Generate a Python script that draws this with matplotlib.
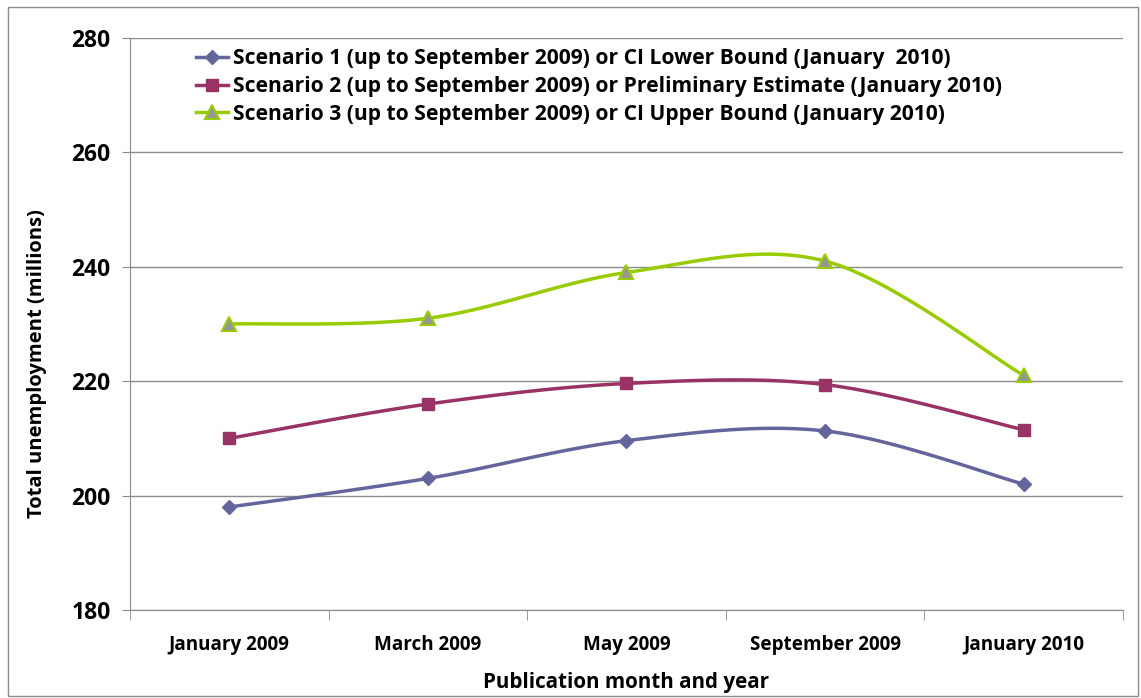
import numpy as np
import matplotlib as mpl
mpl.use("Agg")
import matplotlib.pyplot as plt
from matplotlib.patches import Rectangle

plt.rcParams['font.family'] = ['Open Sans', 'DejaVu Sans']
plt.rcParams['font.weight'] = 'bold'

months = ["January 2009", "March 2009", "May 2009", "September 2009", "January 2010"]
scenario1 = [198.0, 203.0, 209.6, 211.3, 202.0]
scenario2 = [210.0, 216.0, 219.6, 219.4, 211.5]
scenario3 = [230.0, 231.0, 239.0, 241.0, 221.0]
labels = ["Scenario 1 (up to September 2009) or CI Lower Bound (January  2010)",
          "Scenario 2 (up to September 2009) or Preliminary Estimate (January 2010)",
          "Scenario 3 (up to September 2009) or CI Upper Bound (January 2010)"]


def excel_smooth(x, y, n=30):
  # bezier smoothing like office charts: control points from neighbour slopes
  x = np.asarray(x, float)
  y = np.asarray(y, float)
  xs, ys = [x[0]], [y[0]]
  t = np.linspace(0, 1, n)[1:]
  for i in range(len(x) - 1):
    i0 = max(i - 1, 0)
    i3 = min(i + 2, len(x) - 1)
    c1x = x[i] + (x[i + 1] - x[i0]) / 6
    c1y = y[i] + (y[i + 1] - y[i0]) / 6
    c2x = x[i + 1] - (x[i3] - x[i]) / 6
    c2y = y[i + 1] - (y[i3] - y[i]) / 6
    bx = (1-t)**3*x[i] + 3*(1-t)**2*t*c1x + 3*(1-t)*t**2*c2x + t**3*x[i+1]
    by = (1-t)**3*y[i] + 3*(1-t)**2*t*c1y + 3*(1-t)*t**2*c2y + t**3*y[i+1]
    xs.extend(bx)
    ys.extend(by)
  return np.array(xs), np.array(ys)


fig = plt.figure(figsize=(11.41, 6.98), dpi=100)
fig.patches.append(Rectangle((0.007, 0.003), 0.99, 0.987, transform=fig.transFigure,
                             fill=False, edgecolor='#8c8c8c', linewidth=1.0))
ax = fig.add_axes([0.1139, 0.1261, 0.8703, 0.8195])

xpos = np.arange(len(months))
styles = [
  dict(color='#65659e', marker='D', mfc='#65659e', mec='#65659e', ms=7),
  dict(color='#993366', marker='s', mfc='#993366', mec='#993366', ms=9),
  dict(color='#99cc00', marker='^', mfc='#969696', mec='#99cc00', ms=10, mew=1.5),
]
for vals, lab, st in zip([scenario1, scenario2, scenario3], labels, styles):
  sx, sy = excel_smooth(xpos, vals)
  ax.plot(sx, sy, color=st['color'], linewidth=2.5, zorder=3)
  ax.plot(xpos, vals, linestyle='none', marker=st['marker'], ms=st['ms'],
          mfc=st['mfc'], mec=st['mec'], mew=st.get('mew', 1), zorder=4)
  ax.plot([], [], color=st['color'], linewidth=2.5, marker=st['marker'], ms=st['ms'],
          mfc=st['mfc'], mec=st['mec'], mew=st.get('mew', 1), label=lab)

ax.set_xlim(-0.5, len(months) - 0.5)
ax.set_ylim(180, 280)
ax.set_yticks([180, 200, 220, 240, 260, 280])
ax.grid(axis='y', color='#8c8c8c', linewidth=1)
ax.set_axisbelow(True)
ax.set_xticks(xpos)
ax.set_xticklabels(months, fontsize=13.6, fontweight='bold')
ax.set_xticks(np.arange(len(months) + 1) - 0.5, minor=True)
ax.tick_params(axis='x', which='major', length=0, pad=18)
ax.tick_params(axis='x', which='minor', length=7, color='#8c8c8c', direction='out')
ax.tick_params(axis='y', length=6, color='#8c8c8c', labelsize=16.5, pad=8)
for l in ax.get_yticklabels():
  l.set_fontweight('bold')
for s in ['top', 'right']:
  ax.spines[s].set_visible(False)
ax.spines['left'].set_color('#8c8c8c')
ax.spines['bottom'].set_color('#8c8c8c')

ax.set_xlabel("Publication month and year", fontsize=14.9, fontweight='bold', labelpad=12)
ax.set_ylabel("Total unemployment (millions)", fontsize=14.5, fontweight='bold')
ax.yaxis.set_label_coords(-0.084, 0.43)

ax.legend(loc='upper left', bbox_to_anchor=(0.047, 1.015), frameon=False,
          handlelength=1.55, labelspacing=0.32, handletextpad=0.25,
          prop={'weight': 'bold', 'size': 15.1})

fig.savefig("out.png", dpi=100)
